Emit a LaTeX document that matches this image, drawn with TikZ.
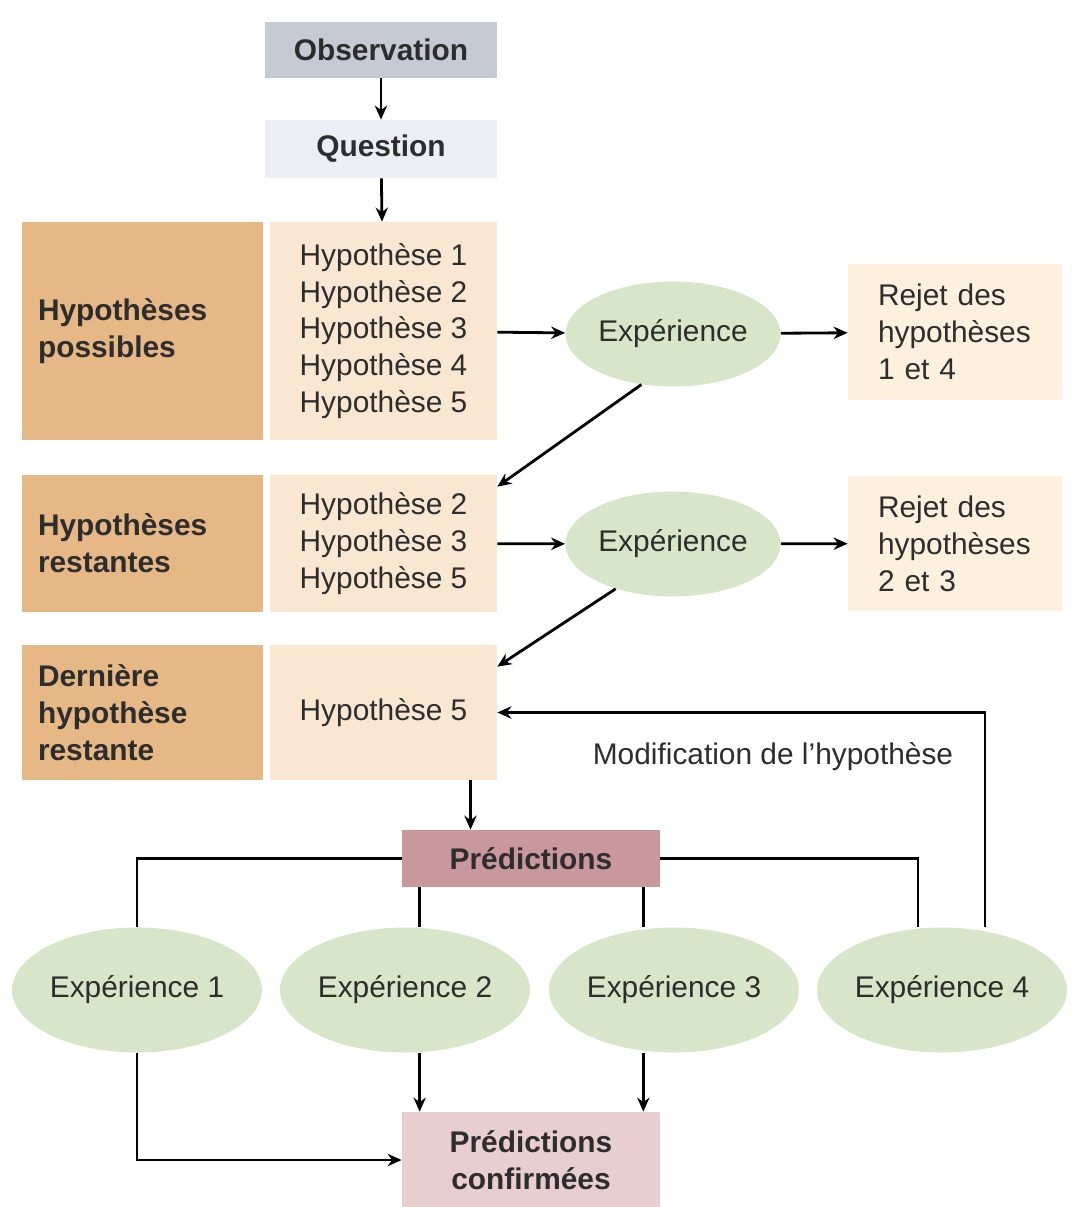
\documentclass[tikz,border=0pt]{standalone}
\usepackage{fontspec}
\setmainfont{Liberation Sans}
\usetikzlibrary{arrows.meta,shapes.geometric}
\definecolor{txtgray}{RGB}{45,45,45}
\definecolor{obsgray}{RGB}{198,202,213}
\definecolor{quesgray}{RGB}{235,238,245}
\definecolor{tandark}{RGB}{229,184,134}
\definecolor{tanlight}{RGB}{249,231,209}
\definecolor{rejcream}{RGB}{253,241,222}
\definecolor{expgreen}{RGB}{215,230,200}
\definecolor{predmauve}{RGB}{201,152,157}
\definecolor{confpink}{RGB}{233,206,209}
\begin{document}
\begin{tikzpicture}[x=0.02cm,y=-0.02cm,
		every node/.style={font=\fontsize{17}{21}\selectfont,text=txtgray},
		topbox/.style={rectangle,inner sep=0pt,minimum width=4.64cm,font=\fontsize{17}{21}\selectfont\bfseries},
		labbox/.style={rectangle,fill=tandark,inner xsep=0.32cm,inner ysep=0pt,text width=4.18cm,minimum height=#1,align=left,font=\fontsize{17}{21}\selectfont\bfseries},
		hypbox/.style={rectangle,fill=tanlight,inner sep=0pt,minimum width=4.54cm,minimum height=#1,align=center},
		rejbox/.style={rectangle,fill=rejcream,inner xsep=0.6cm,inner ysep=0pt,text width=3.08cm,minimum height=2.72cm,align=left},
		expell/.style={ellipse,fill=expgreen,inner sep=0pt,minimum width=#1},
		predbox/.style={rectangle,inner sep=0pt,minimum width=5.16cm,align=center,font=\fontsize{17}{21}\selectfont\bfseries},
		arr/.style={line width=1.6pt,-{Stealth[length=8pt,width=7pt]}},
		lnk/.style={line width=1.6pt}
	]
	\useasboundingbox (0,0) rectangle (1081,1207);

	\node[topbox,fill=obsgray,minimum height=1.12cm] (obs) at (381,50) {Observation};
	\node[topbox,fill=quesgray,minimum height=1.16cm] (ques) at (381,149) {Question};

	\node[labbox=4.36cm] (labA) at (142.5,331) {Hypothèses\\possibles};
	\node[hypbox=4.36cm] (hypA) at (383.5,331) {Hypothèse 1\\Hypothèse 2\\Hypothèse 3\\Hypothèse 4\\Hypothèse 5};
	\node[expell=4.3cm,minimum height=2.1cm] (expA) at (673,334) {Expérience};
	\node[rejbox] (rejA) at (955,332) {Rejet des\\hypothèses\\1 et 4};

	\node[labbox=2.74cm] (labB) at (142.5,543.5) {Hypothèses\\restantes};
	\node[hypbox=2.74cm] (hypB) at (383.5,543.5) {Hypothèse 2\\Hypothèse 3\\Hypothèse 5};
	\node[expell=4.3cm,minimum height=2.1cm] (expB) at (673,544) {Expérience};
	\node[rejbox] (rejB) at (955,543.5) {Rejet des\\hypothèses\\2 et 3};

	\node[labbox=2.7cm] (labC) at (142.5,712.5) {Dernière\\hypothèse\\restante};
	\node[hypbox=2.7cm] (hypC) at (383.5,712.5) {Hypothèse 5};
	\node (modif) at (773,757) {Modification de l’hypothèse};

	\node[predbox,fill=predmauve,minimum height=1.14cm] (pred) at (531,858.5) {Prédictions};

	\node[expell=5cm,minimum height=2.5cm] (expI) at (137,990) {Expérience 1};
	\node[expell=5cm,minimum height=2.5cm] (expII) at (405,990) {Expérience 2};
	\node[expell=5cm,minimum height=2.5cm] (expIII) at (674,990) {Expérience 3};
	\node[expell=5cm,minimum height=2.5cm] (expIV) at (942,990) {Expérience 4};

	\node[predbox,fill=confpink,minimum height=1.92cm] (conf) at (531,1160) {Prédictions\\confirmées};

	\draw[arr] (obs) -- (ques);
	\draw[arr] (ques) -- (hypA);
	\draw[arr] (hypA) -- (expA);
	\draw[arr] (expA) -- (rejA);
	\draw[arr] (expA.238) -- ([yshift=-0.24cm]hypB.north east);
	\draw[arr] (hypB) -- (expB);
	\draw[arr] (expB) -- (rejB);
	\draw[arr] (expB.218) -- ([yshift=-0.44cm]hypC.north east);
	\draw[arr] ([xshift=1.74cm]hypC.south) -- ([xshift=1.74cm]hypC.south |- pred.north);
	\draw[arr] ([xshift=0.86cm]expIV.north) |- (hypC.east);

	\draw[lnk] (pred.west) -| (expI.north);
	\draw[lnk] (pred.east) -| ([xshift=-0.48cm]expIV.north);
	\draw[lnk] ([xshift=0.36cm]pred.south west) -- ([xshift=0.36cm]pred.south west |- expII.north);
	\draw[lnk] ([xshift=-0.34cm]pred.south east) -- ([xshift=-0.34cm]pred.south east |- expIII.north);

	\draw[arr] (expI.south) |- (conf.west);
	\draw[arr] ([xshift=0.36cm]conf.north west |- expII.south) -- ([xshift=0.36cm]conf.north west);
	\draw[arr] ([xshift=-0.34cm]conf.north east |- expIII.south) -- ([xshift=-0.34cm]conf.north east);
\end{tikzpicture}
\end{document}
